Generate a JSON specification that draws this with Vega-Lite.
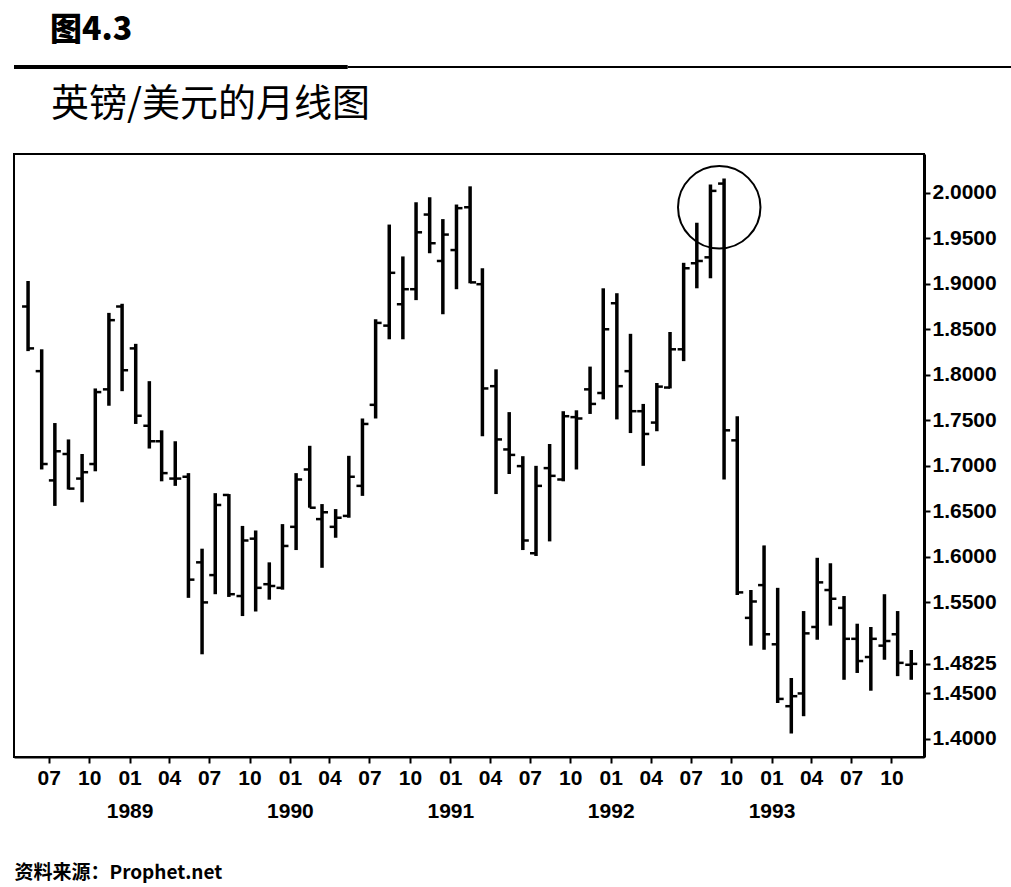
{
  "$schema": "https://vega.github.io/schema/vega-lite/v6.json",
  "background": "white",
  "padding": {"left": 12, "top": 14, "right": 0, "bottom": 0},
  "config": {
    "font": "Liberation Sans",
    "view": {"stroke": null},
    "concat": {"spacing": 15}
  },
  "title": {
    "text": "图4.3",
    "anchor": "start",
    "dx": 38,
    "font": "Noto Sans CJK SC",
    "fontSize": 32,
    "fontWeight": 900,
    "color": "black",
    "offset": 17
  },
  "vconcat": [
    {
      "width": 999,
      "height": 6,
      "data": {"values": [
        {"part": "thick", "from": 0, "to": 0.334},
        {"part": "thin", "from": 0.334, "to": 1}
      ]},
      "mark": {"type": "rule", "color": "black"},
      "encoding": {
        "x": {"field": "from", "type": "quantitative", "scale": {"domain": [0, 1]}, "axis": null},
        "x2": {"field": "to"},
        "strokeWidth": {"field": "part", "type": "nominal", "scale": {"domain": ["thick", "thin"], "range": [4, 2]}, "legend": null}
      }
    },
    {
      "width": 910,
      "height": 603,
      "title": {
        "text": "英镑/美元的月线图",
        "anchor": "start",
        "dx": 37,
        "font": "Noto Sans CJK SC",
        "fontSize": 38,
        "fontWeight": "normal",
        "color": "black",
        "offset": 30
      },
      "view": {"stroke": "black", "strokeWidth": 2},
      "data": {"values": [
        {"date": "1988-05-15", "open": 1.875, "high": 1.903, "low": 1.826, "close": 1.829},
        {"date": "1988-06-15", "open": 1.804, "high": 1.828, "low": 1.696, "close": 1.702},
        {"date": "1988-07-15", "open": 1.684, "high": 1.747, "low": 1.656, "close": 1.716},
        {"date": "1988-08-15", "open": 1.713, "high": 1.729, "low": 1.674, "close": 1.675},
        {"date": "1988-09-15", "open": 1.686, "high": 1.713, "low": 1.660, "close": 1.693},
        {"date": "1988-10-15", "open": 1.702, "high": 1.785, "low": 1.694, "close": 1.781},
        {"date": "1988-11-15", "open": 1.784, "high": 1.868, "low": 1.766, "close": 1.860},
        {"date": "1988-12-15", "open": 1.875, "high": 1.878, "low": 1.782, "close": 1.805},
        {"date": "1989-01-15", "open": 1.829, "high": 1.834, "low": 1.746, "close": 1.755},
        {"date": "1989-02-15", "open": 1.744, "high": 1.793, "low": 1.719, "close": 1.727},
        {"date": "1989-03-15", "open": 1.727, "high": 1.739, "low": 1.683, "close": 1.692},
        {"date": "1989-04-15", "open": 1.686, "high": 1.727, "low": 1.678, "close": 1.686},
        {"date": "1989-05-15", "open": 1.688, "high": 1.692, "low": 1.555, "close": 1.575},
        {"date": "1989-06-15", "open": 1.594, "high": 1.609, "low": 1.493, "close": 1.550},
        {"date": "1989-07-15", "open": 1.580, "high": 1.670, "low": 1.559, "close": 1.657},
        {"date": "1989-08-15", "open": 1.668, "high": 1.669, "low": 1.556, "close": 1.559},
        {"date": "1989-09-15", "open": 1.557, "high": 1.634, "low": 1.535, "close": 1.618},
        {"date": "1989-10-15", "open": 1.620, "high": 1.629, "low": 1.540, "close": 1.566},
        {"date": "1989-11-15", "open": 1.570, "high": 1.594, "low": 1.553, "close": 1.568},
        {"date": "1989-12-15", "open": 1.566, "high": 1.636, "low": 1.564, "close": 1.612},
        {"date": "1990-01-15", "open": 1.633, "high": 1.692, "low": 1.6075, "close": 1.685},
        {"date": "1990-02-15", "open": 1.696, "high": 1.722, "low": 1.654, "close": 1.654},
        {"date": "1990-03-15", "open": 1.6415, "high": 1.658, "low": 1.588, "close": 1.649},
        {"date": "1990-04-15", "open": 1.633, "high": 1.6525, "low": 1.621, "close": 1.643},
        {"date": "1990-05-15", "open": 1.645, "high": 1.711, "low": 1.643, "close": 1.688},
        {"date": "1990-06-15", "open": 1.678, "high": 1.752, "low": 1.667, "close": 1.746},
        {"date": "1990-07-15", "open": 1.767, "high": 1.861, "low": 1.752, "close": 1.857},
        {"date": "1990-08-15", "open": 1.854, "high": 1.965, "low": 1.839, "close": 1.912},
        {"date": "1990-09-15", "open": 1.8775, "high": 1.930, "low": 1.839, "close": 1.894},
        {"date": "1990-10-15", "open": 1.894, "high": 1.9895, "low": 1.882, "close": 1.9565},
        {"date": "1990-11-15", "open": 1.976, "high": 1.995, "low": 1.9335, "close": 1.9445},
        {"date": "1990-12-15", "open": 1.925, "high": 1.971, "low": 1.8665, "close": 1.954},
        {"date": "1991-01-15", "open": 1.937, "high": 1.987, "low": 1.894, "close": 1.983},
        {"date": "1991-02-15", "open": 1.984, "high": 2.007, "low": 1.9005, "close": 1.9015},
        {"date": "1991-03-15", "open": 1.8995, "high": 1.917, "low": 1.7326, "close": 1.785},
        {"date": "1991-04-15", "open": 1.7875, "high": 1.806, "low": 1.669, "close": 1.729},
        {"date": "1991-05-15", "open": 1.718, "high": 1.759, "low": 1.691, "close": 1.712},
        {"date": "1991-06-15", "open": 1.6997, "high": 1.7106, "low": 1.6075, "close": 1.618},
        {"date": "1991-07-15", "open": 1.604, "high": 1.700, "low": 1.601, "close": 1.678},
        {"date": "1991-08-15", "open": 1.6975, "high": 1.724, "low": 1.617, "close": 1.689},
        {"date": "1991-09-15", "open": 1.685, "high": 1.760, "low": 1.683, "close": 1.7545},
        {"date": "1991-10-15", "open": 1.7535, "high": 1.761, "low": 1.696, "close": 1.752},
        {"date": "1991-11-15", "open": 1.784, "high": 1.809, "low": 1.757, "close": 1.768},
        {"date": "1991-12-15", "open": 1.780, "high": 1.895, "low": 1.773, "close": 1.850},
        {"date": "1992-01-15", "open": 1.8786, "high": 1.8896, "low": 1.751, "close": 1.7875},
        {"date": "1992-02-15", "open": 1.804, "high": 1.845, "low": 1.736, "close": 1.760},
        {"date": "1992-03-15", "open": 1.760, "high": 1.768, "low": 1.700, "close": 1.735},
        {"date": "1992-04-15", "open": 1.7475, "high": 1.791, "low": 1.738, "close": 1.787},
        {"date": "1992-05-15", "open": 1.786, "high": 1.847, "low": 1.785, "close": 1.828},
        {"date": "1992-06-15", "open": 1.828, "high": 1.923, "low": 1.815, "close": 1.917},
        {"date": "1992-07-15", "open": 1.9225, "high": 1.967, "low": 1.895, "close": 1.925},
        {"date": "1992-08-15", "open": 1.929, "high": 2.009, "low": 1.906, "close": 2.002},
        {"date": "1992-09-15", "open": 2.010, "high": 2.0155, "low": 1.685, "close": 1.739},
        {"date": "1992-10-15", "open": 1.728, "high": 1.7545, "low": 1.558, "close": 1.561},
        {"date": "1992-11-15", "open": 1.533, "high": 1.5636, "low": 1.5025, "close": 1.551},
        {"date": "1992-12-15", "open": 1.569, "high": 1.6126, "low": 1.498, "close": 1.515},
        {"date": "1993-01-15", "open": 1.504, "high": 1.566, "low": 1.4395, "close": 1.444},
        {"date": "1993-02-15", "open": 1.436, "high": 1.467, "low": 1.406, "close": 1.447},
        {"date": "1993-03-15", "open": 1.450, "high": 1.5405, "low": 1.425, "close": 1.516},
        {"date": "1993-04-15", "open": 1.523, "high": 1.599, "low": 1.509, "close": 1.572},
        {"date": "1993-05-15", "open": 1.5636, "high": 1.593, "low": 1.5245, "close": 1.554},
        {"date": "1993-06-15", "open": 1.544, "high": 1.557, "low": 1.465, "close": 1.510},
        {"date": "1993-07-15", "open": 1.510, "high": 1.5266, "low": 1.4725, "close": 1.4856},
        {"date": "1993-08-15", "open": 1.490, "high": 1.523, "low": 1.453, "close": 1.510},
        {"date": "1993-09-15", "open": 1.5025, "high": 1.559, "low": 1.487, "close": 1.5076},
        {"date": "1993-10-15", "open": 1.515, "high": 1.5405, "low": 1.469, "close": 1.4836},
        {"date": "1993-11-15", "open": 1.4815, "high": 1.4977, "low": 1.465, "close": 1.4825}
      ]},
      "encoding": {
        "x": {
          "field": "date",
          "type": "temporal",
          "scale": {"domain": [{"year": 1988, "month": 4, "date": 13}, {"year": 1993, "month": 12, "date": 14}]},
          "axis": {
            "orient": "bottom",
            "tickCount": {"interval": "month", "step": 3},
            "format": "%m",
            "labelExpr": "month(datum.value) == 0 ? [datum.label, timeFormat(datum.value, '%Y')] : datum.label",
            "labelFont": "Liberation Sans",
            "labelFontSize": 21,
            "labelFontWeight": "bold",
            "labelColor": "black",
            "labelLineHeight": 33,
            "labelOverlap": false,
            "labelFlush": false,
            "labelPadding": 4,
            "tickSize": 6,
            "tickWidth": 2,
            "tickColor": "black",
            "domainColor": "black",
            "domainWidth": 2,
            "grid": false,
            "title": "资料来源：Prophet.net",
            "titleAnchor": "start",
            "titleFont": "Noto Sans CJK SC",
            "titleFontSize": 19,
            "titleFontWeight": "bold",
            "titleColor": "black",
            "titlePadding": 42
          }
        }
      },
      "layer": [
        {
          "mark": {"type": "rule", "color": "black", "strokeWidth": 3.5},
          "encoding": {
            "y": {
              "field": "low",
              "type": "quantitative",
              "scale": {"domain": [1.3802, 2.0425], "nice": false, "zero": false},
              "axis": {
                "orient": "right",
                "values": [1.4, 1.45, 1.4825, 1.55, 1.6, 1.65, 1.7, 1.75, 1.8, 1.85, 1.9, 1.95, 2.0],
                "format": ".4f",
                "labelFont": "Liberation Sans",
                "labelFontSize": 21,
                "labelFontWeight": "bold",
                "labelColor": "black",
                "labelOverlap": false,
                "labelPadding": 2,
                "tickSize": 6,
                "tickWidth": 2,
                "tickColor": "black",
                "domainColor": "black",
                "domainWidth": 3,
                "grid": false,
                "title": null
              }
            },
            "y2": {"field": "high"}
          }
        },
        {
          "mark": {"type": "tick", "orient": "horizontal", "color": "black", "size": 6, "thickness": 2.5, "xOffset": -3, "opacity": 1},
          "encoding": {"y": {"field": "open", "type": "quantitative"}}
        },
        {
          "mark": {"type": "tick", "orient": "horizontal", "color": "black", "size": 6, "thickness": 2.5, "xOffset": 3, "opacity": 1},
          "encoding": {"y": {"field": "close", "type": "quantitative"}}
        },
        {
          "data": {"values": [{"date": "1992-09-04", "price": 1.984}]},
          "mark": {"type": "point", "shape": "circle", "filled": false, "color": "black", "strokeWidth": 2, "size": 6800, "opacity": 1},
          "encoding": {"y": {"field": "price", "type": "quantitative"}}
        }
      ]
    }
  ]
}
